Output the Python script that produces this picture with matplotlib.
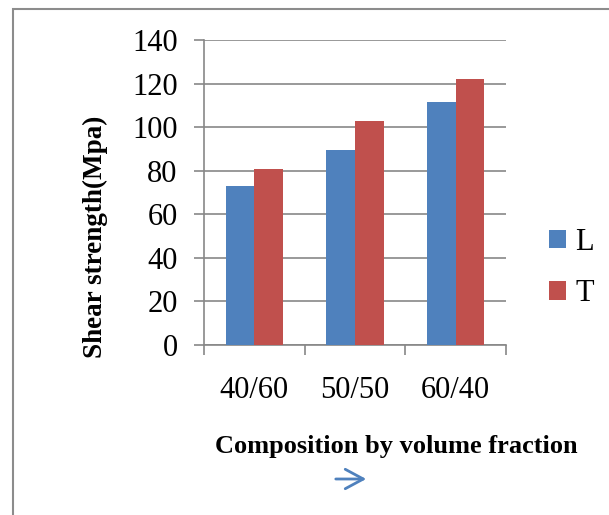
import matplotlib
matplotlib.use("Agg")
import matplotlib.pyplot as plt
import numpy as np
from matplotlib.patches import Rectangle

# data
categories = ["40/60", "50/50", "60/40"]
series_names = ["L", "T"]
values_L = [73, 89.5, 111.5]
values_T = [81, 103, 122]
y_ticks = [0, 20, 40, 60, 80, 100, 120, 140]

BLUE = "#4F81BD"
RED = "#C0504D"
GRID = "#878787"

plt.rcParams["font.family"] = ["Liberation Serif", "DejaVu Serif"]

W, H = 609, 515
fig = plt.figure(figsize=(W / 100, H / 100), dpi=100)
ax = fig.add_axes([204 / W, 1 - 345 / H, (506 - 204) / W, (345 - 40) / H])

x = np.arange(len(categories))
bw = 0.285
ax.bar(x - bw / 2, values_L, bw, color=BLUE, label=series_names[0], zorder=3)
ax.bar(x + bw / 2, values_T, bw, color=RED, label=series_names[1], zorder=3)

ax.set_xlim(-0.5, len(categories) - 0.5)
ax.set_ylim(0, 140)
ax.set_yticks(y_ticks)
ax.yaxis.grid(True, color=GRID, linewidth=1.2, zorder=0)
ax.set_axisbelow(True)

ax.set_xticks(x)
ax.set_xticklabels(categories, fontsize=22)
ax.set_xticks(np.arange(len(categories) + 1) - 0.5, minor=True)
ax.tick_params(axis="x", which="major", length=0, pad=22)
ax.tick_params(axis="x", which="minor", length=7, width=1.2, color=GRID)
ax.tick_params(axis="y", labelsize=22, length=7, width=1.2, color=GRID, pad=12)

for side in ("top", "right"):
    ax.spines[side].set_visible(False)
for side in ("left", "bottom"):
    ax.spines[side].set_color(GRID)
    ax.spines[side].set_linewidth(1.2)

fig.text(95 / W, 1 - 237 / H, "Shear strength(Mpa)", rotation=90, fontsize=19.5,
         fontweight="bold", ha="center", va="center")
fig.text(396 / W, 1 - 446 / H, "Composition by volume fraction", fontsize=19,
         fontweight="bold", ha="center", va="center")

ax.annotate("", xy=(369 / W, 1 - 479 / H), xytext=(333 / W, 1 - 479 / H),
            xycoords="figure fraction", textcoords="figure fraction",
            arrowprops=dict(arrowstyle="->,head_length=1.3,head_width=0.7",
                            color=BLUE, lw=2.0))

leg = ax.legend(loc="center left", bbox_to_anchor=(534 / W, 1 - 268 / H),
                bbox_transform=fig.transFigure, frameon=False, fontsize=22,
                handlelength=0.55, handleheight=0.55, handletextpad=0.3,
                labelspacing=0.75, borderpad=0)

# outer gray frame (only top and left edges visible)
fig.patches.append(Rectangle((13 / W, -0.1), 1.2, 1.1 - 9 / H, transform=fig.transFigure,
                             fill=False, edgecolor="#8c8c8c", linewidth=1.5))

fig.savefig("out.png", dpi=100)
